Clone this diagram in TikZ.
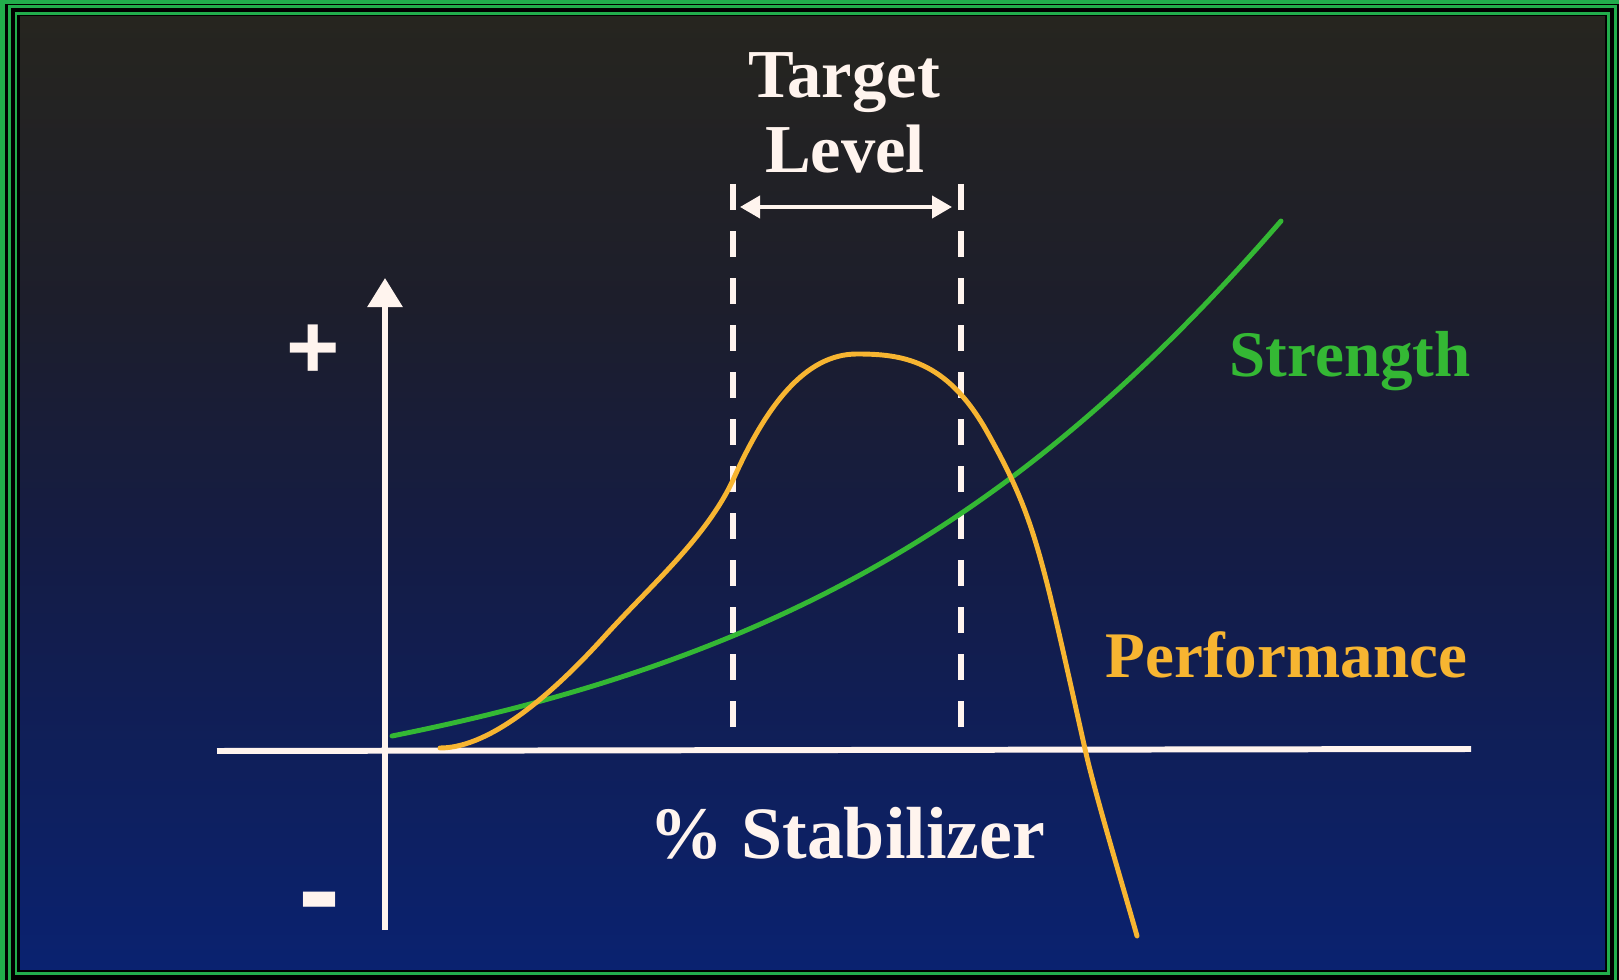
\documentclass[tikz,border=0pt]{standalone}
\usepackage{fontspec}
\setmainfont{Liberation Serif}
\newfontfamily\signfont{Liberation Sans}
\usetikzlibrary{arrows.meta}
\definecolor{frameg}{HTML}{22AD4C}
\definecolor{bgA}{HTML}{26251F}
\definecolor{bgB}{HTML}{1D1E2B}
\definecolor{bgC}{HTML}{141C45}
\definecolor{bgD}{HTML}{0A2270}
\definecolor{wht}{HTML}{FFF4EE}
\definecolor{orng}{HTML}{F7B531}
\definecolor{grn}{HTML}{34B834}
\tikzset{
  frameline/.style={draw=frameg, line width=0.85pt},
  axisline/.style={draw=wht, line width=1.7pt},
  perfcurve/.style={draw=orng, line width=1.4pt, line cap=round},
  strcurve/.style={draw=grn, line width=1.4pt, line cap=round},
  dashline/.style={draw=wht, line width=1.45pt, dash pattern=on 0.26cm off 0.21cm},
  lvlarrow/.style={draw=wht, line width=1.15pt, {Triangle[width=0.22cm,length=0.2cm]}-{Triangle[width=0.22cm,length=0.2cm]}},
  lbl/.style={font=\bfseries\fontsize{19.5pt}{21pt}\selectfont, text=wht, inner sep=0pt},
  sign/.style={text=wht, inner sep=0pt},
}
\begin{document}
\begin{tikzpicture}[x=0.01cm, y=-0.01cm]
\useasboundingbox (0,0) rectangle (1619,980);
\fill[black] (0,0) rectangle (1619,980);
% background photo
\shade[top color=bgA, bottom color=bgB] (20,17) rectangle (1605,301);
\shade[top color=bgB, bottom color=bgC] (20,300) rectangle (1605,551);
\shade[top color=bgC, bottom color=bgD] (20,550) rectangle (1605,969);
% frame
\begin{scope}
\clip (0,0) rectangle (1619,980);
\draw[frameg, line width=1.4pt] (2.5,1.5) rectangle (1640,1000);
\draw[frameline] (9.5,6.5) rectangle (1615.5,990);
\draw[frameline] (16,13.5) rectangle (1608.5,973.5);
\end{scope}
% axes
\coordinate (yb) at (385,930);
\coordinate (yt) at (385,278);
\coordinate (xl) at (217,751);
\coordinate (xr) at (1471,749);
\draw[axisline] (xl) -- (xr);
\draw[axisline, -{Triangle[width=0.34cm,length=0.29cm]}] (yb) -- (yt);
\node[sign, font=\signfont\bfseries\fontsize{26pt}{26pt}\selectfont] (plus) at (313,352) {+};
\node[sign, font=\signfont\bfseries\fontsize{36pt}{36pt}\selectfont] (minus) at (320,912) {-};
% dashed target lines
\coordinate (d1t) at (733,184);
\coordinate (d1b) at (733,729);
\coordinate (d2t) at (961,184);
\coordinate (d2b) at (961,729);
\draw[dashline] (d1t) -- (d1b);
\draw[dashline] (d2t) -- (d2b);
\coordinate (al) at (740,207);
\coordinate (ar) at (952,207);
\draw[lvlarrow] (al) -- (ar);
% curves
\coordinate (s0) at (392,736);
\coordinate (s1) at (1281,221);
\draw[strcurve] (s0) .. controls (792,656) and (1031,509) .. (s1);
\coordinate (p0) at (440,748);
\coordinate (p1) at (1137,936);
\draw[perfcurve] (p0) .. controls (492,748) and (556,690) .. (604,637)
  .. controls (650,586) and (706,538) .. (733,480)
  .. controls (766,406) and (805,354) .. (857,354)
  .. controls (902,354) and (946,360) .. (986,430)
  .. controls (1035,517) and (1040,548) .. (1085,749)
  .. controls (1095,794) and (1124,890) .. (p1);
% labels
\node[lbl, anchor=base] (t1) at (844,98) {Target};
\node[lbl, anchor=base] (t2) at (845,173) {Level};
\node[lbl, anchor=base, font=\bfseries\fontsize{21pt}{22pt}\selectfont] (stab) at (847,858) {\% Stabilizer};
\node[lbl, anchor=base west, text=grn, font=\bfseries\fontsize{18.5pt}{20pt}\selectfont] (str) at (1229,377) {Strength};
\node[lbl, anchor=base west, text=orng, font=\bfseries\fontsize{18.5pt}{20pt}\selectfont] (perf) at (1105,677) {Performance};
\end{tikzpicture}
\end{document}
